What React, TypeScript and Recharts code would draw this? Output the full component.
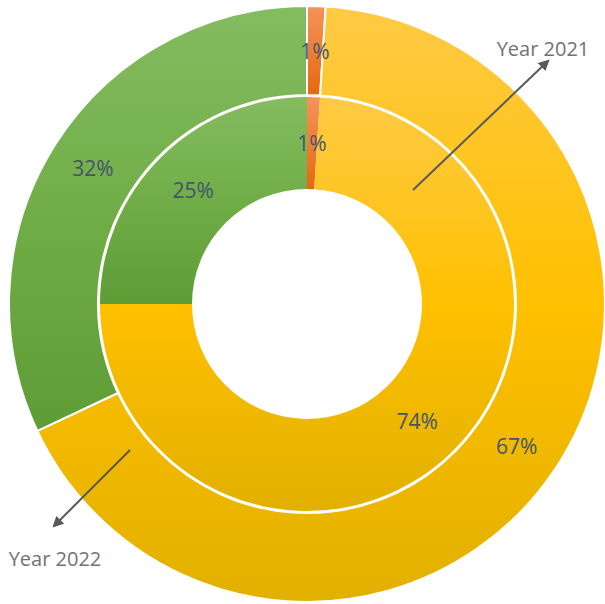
import React from 'react';
import { PieChart, Pie, Cell } from 'recharts';

const categories = ['Category 1', 'Category 2', 'Category 3'];
const values2021 = [1, 74, 25];
const values2022 = [1, 67, 32];
const percentLabels2021 = ['1%', '74%', '25%'];
const percentLabels2022 = ['1%', '67%', '32%'];
const yearLabels = ['Year 2021', 'Year 2022'];

const data2021 = categories.map((name, i) => ({ name, value: values2021[i], label: percentLabels2021[i] }));
const data2022 = categories.map((name, i) => ({ name, value: values2022[i], label: percentLabels2022[i] }));

const FILLS = ['url(#gOrange)', 'url(#gYellow)', 'url(#gGreen)'];
const RADIAN = Math.PI / 180;

const renderLabel = (labels: string[]) => (props: any) => {
  const { cx, cy, midAngle, innerRadius, outerRadius, index } = props;
  const r = (innerRadius + outerRadius) / 2;
  const x = cx + r * Math.cos(-midAngle * RADIAN);
  const y = cy + r * Math.sin(-midAngle * RADIAN);
  return (
    <text
      x={x}
      y={y}
      textAnchor="middle"
      dominantBaseline="central"
      fill="#44546A"
      fontSize={21}
      fontFamily="'Open Sans', sans-serif"
    >
      {labels[index]}
    </text>
  );
};

export default function App() {
  return (
    <div style={{ position: 'absolute', left: 0, top: 0, width: 605, height: 604 }}>
      <PieChart width={605} height={604} margin={{ top: 0, right: 0, bottom: 0, left: 0 }}>
        <defs>
          <linearGradient id="gGreen" x1="0" y1="0" x2="0" y2="1">
            <stop offset="0%" stopColor="#84BC60" />
            <stop offset="50%" stopColor="#70AD47" />
            <stop offset="100%" stopColor="#5E9C36" />
          </linearGradient>
          <linearGradient id="gYellow" x1="0" y1="0" x2="0" y2="1">
            <stop offset="0%" stopColor="#FFCA45" />
            <stop offset="50%" stopColor="#FFC000" />
            <stop offset="100%" stopColor="#E2B000" />
          </linearGradient>
          <linearGradient id="gOrange" x1="0" y1="0" x2="0" y2="1">
            <stop offset="0%" stopColor="#F5935A" />
            <stop offset="100%" stopColor="#E5690F" />
          </linearGradient>
        </defs>
        <Pie
          data={data2021}
          dataKey="value"
          cx={307}
          cy={304}
          innerRadius={115}
          outerRadius={207}
          startAngle={90}
          endAngle={-270}
          stroke="none"
          labelLine={false}
          label={renderLabel(percentLabels2021)}
          isAnimationActive={false}
        >
          {data2021.map((entry, i) => (
            <Cell key={`in-${i}`} fill={FILLS[i]} />
          ))}
        </Pie>
        <Pie
          data={data2022}
          dataKey="value"
          cx={307}
          cy={304}
          innerRadius={209}
          outerRadius={298}
          startAngle={90}
          endAngle={-270}
          stroke="#ffffff"
          strokeWidth={2}
          labelLine={false}
          label={renderLabel(percentLabels2022)}
          isAnimationActive={false}
        >
          {data2022.map((entry, i) => (
            <Cell key={`out-${i}`} fill={FILLS[i]} />
          ))}
        </Pie>
      </PieChart>
      <svg width={605} height={604} style={{ position: 'absolute', left: 0, top: 0, pointerEvents: 'none' }}>
        <defs>
          <marker id="arrow" viewBox="0 0 10 10" refX="8" refY="5" markerWidth="5.5" markerHeight="5.5" orient="auto">
            <path d="M0,0 L10,5 L0,10 z" fill="#595959" />
          </marker>
        </defs>
        <line x1={413} y1={190} x2={548} y2={61} stroke="#595959" strokeWidth={2} markerEnd="url(#arrow)" />
        <line x1={130} y1={450} x2={54} y2={526} stroke="#595959" strokeWidth={2} markerEnd="url(#arrow)" />
        <text x={543} y={48} textAnchor="middle" dominantBaseline="central" fill="#767171" fontSize={20} fontFamily="'Open Sans', sans-serif">
          {yearLabels[0]}
        </text>
        <text x={55} y={558} textAnchor="middle" dominantBaseline="central" fill="#767171" fontSize={20} fontFamily="'Open Sans', sans-serif">
          {yearLabels[1]}
        </text>
      </svg>
    </div>
  );
}
